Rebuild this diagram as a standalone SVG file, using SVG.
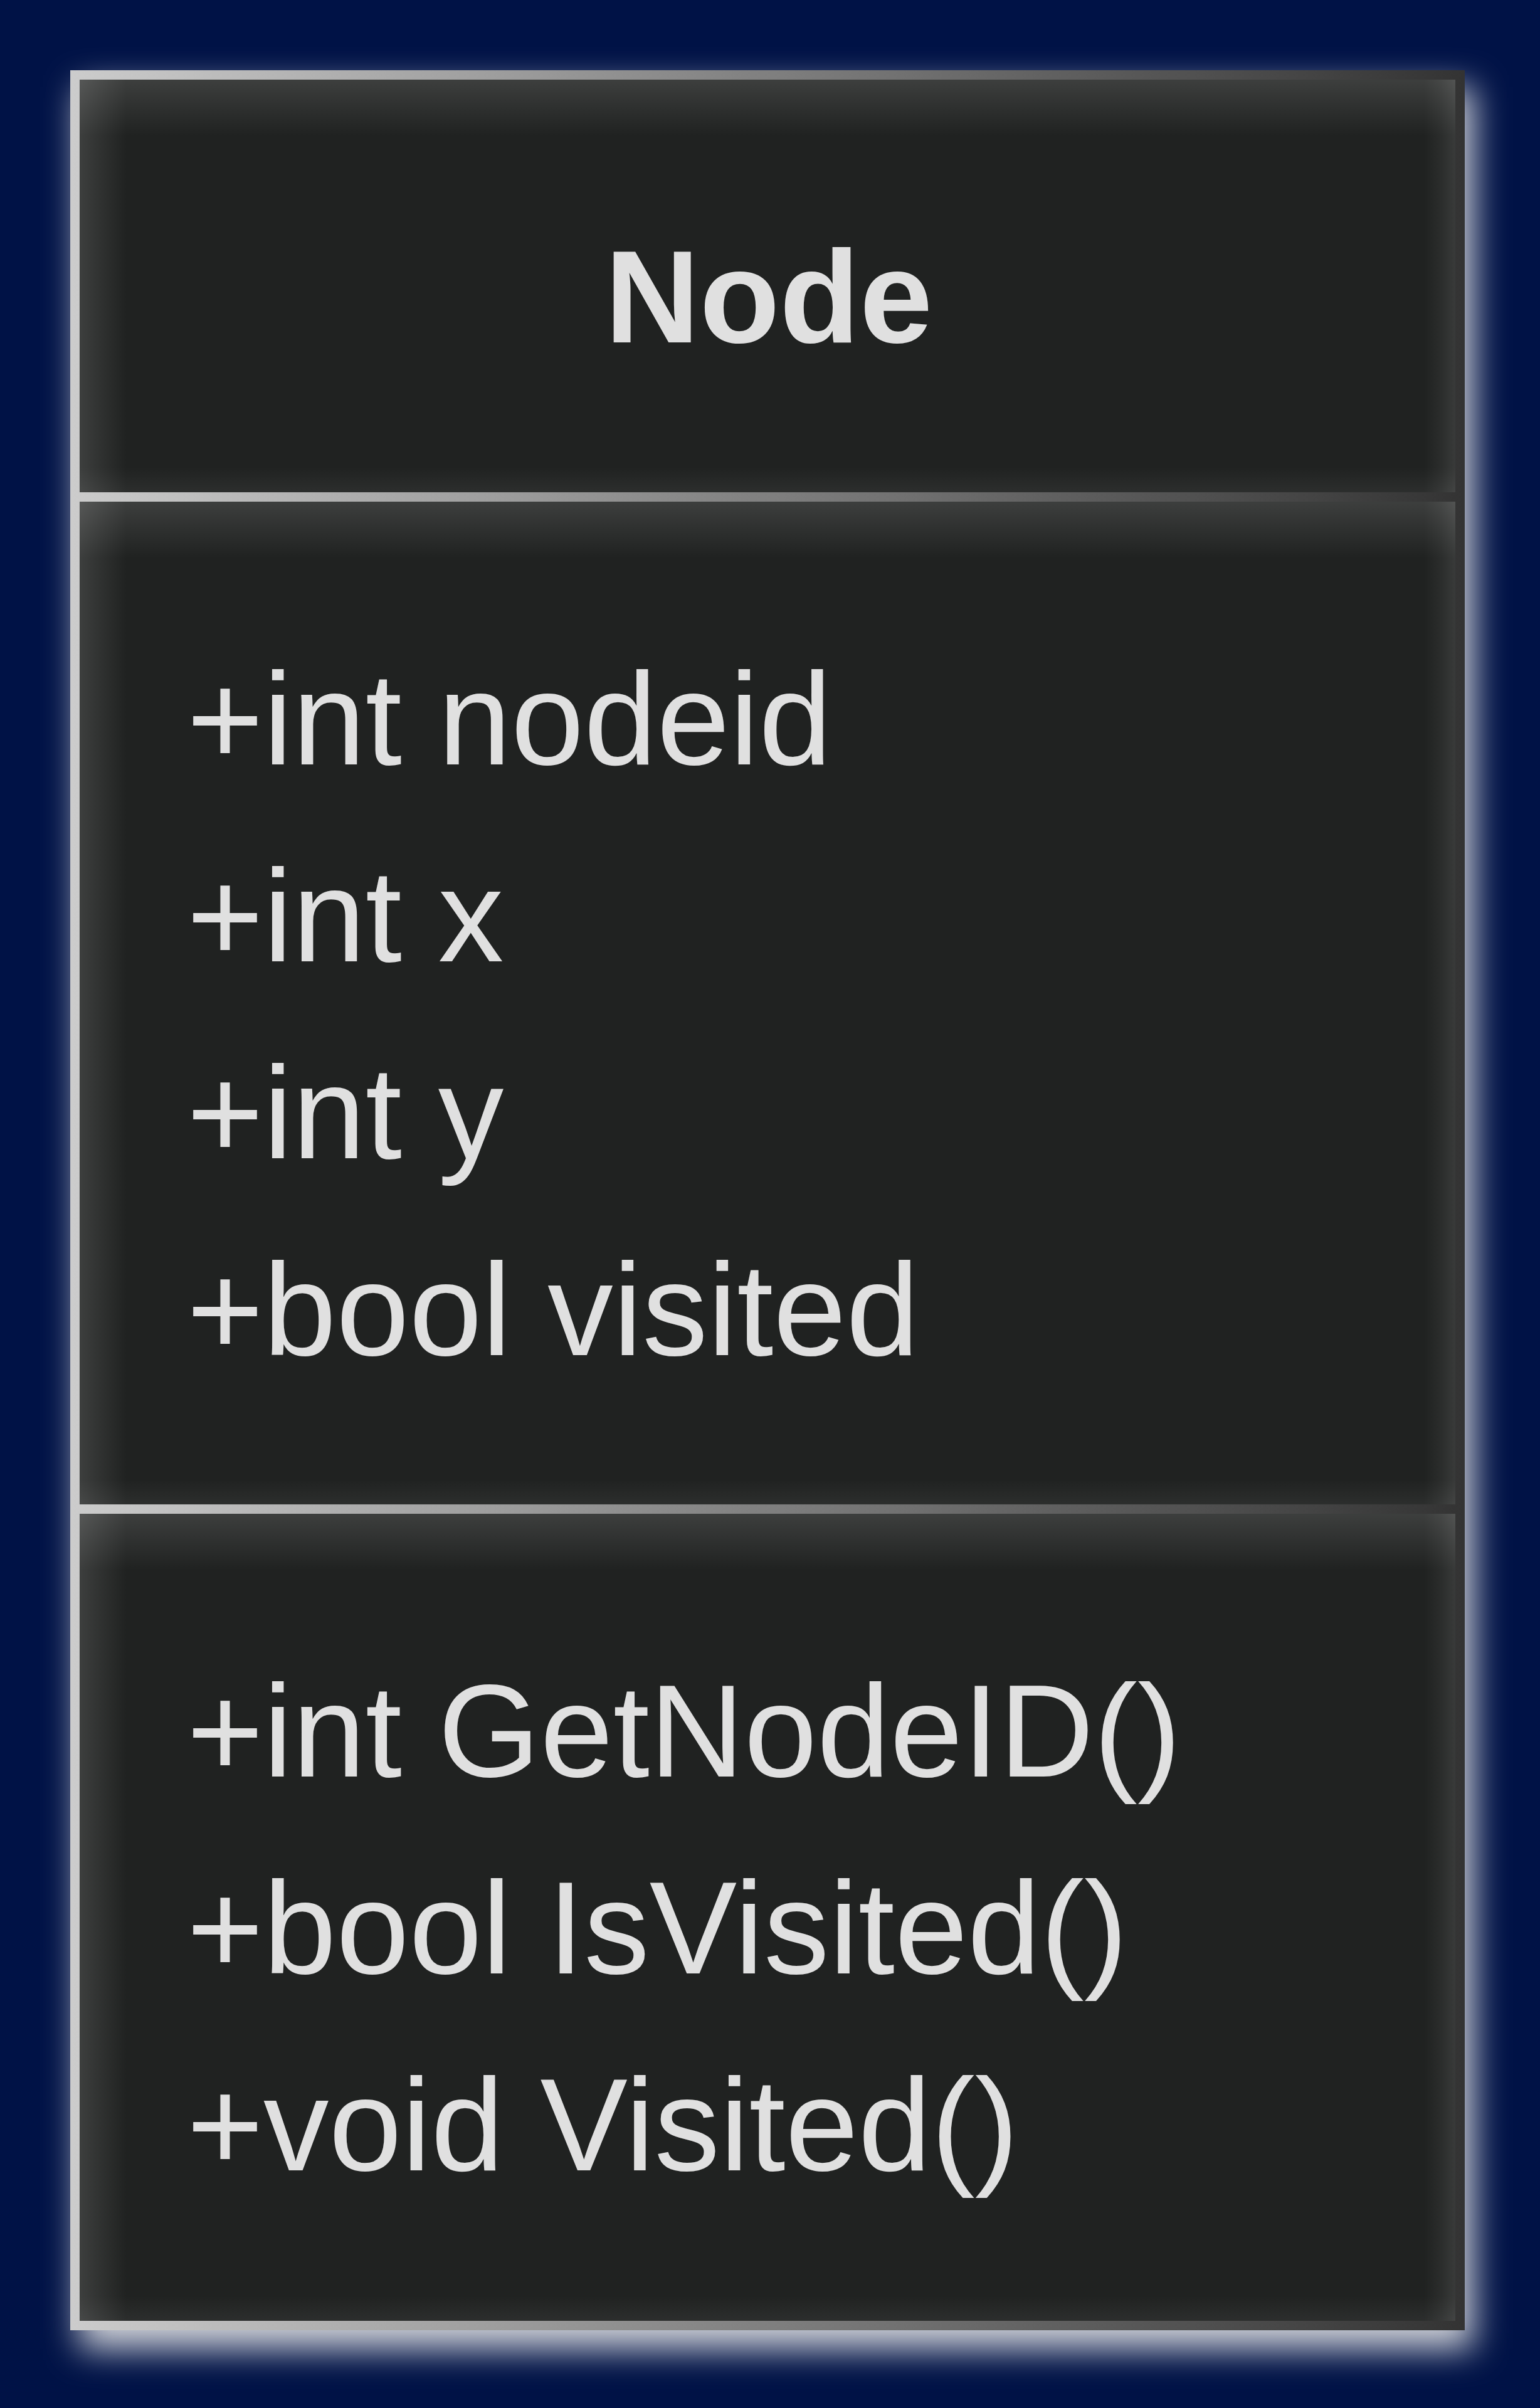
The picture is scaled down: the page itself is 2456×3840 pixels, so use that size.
<svg xmlns="http://www.w3.org/2000/svg" width="2456" height="3840" viewBox="0 0 2456 3840">
  <defs>
    <style>
      .lbl { font-family: "Liberation Sans", Arial, sans-serif; font-size: 209px; fill: #e0e0e0; }
      .title { font-weight: bold; text-anchor: middle; }
      .base { fill: #202221; }
      .gt { fill: url(#gTop); }
      .gl { fill: url(#gLeft); }
      .gr { fill: url(#gRight); }
      .gb { fill: url(#gBottom); }
    </style>
    <linearGradient id="frameGrad" gradientUnits="userSpaceOnUse" x1="112" y1="0" x2="2336" y2="0">
      <stop offset="0" stop-color="#cccccc"/>
      <stop offset="1" stop-color="#333333"/>
    </linearGradient>
    <linearGradient id="gTop" x1="0" y1="0" x2="0" y2="1">
      <stop offset="0" stop-color="#ffffff" stop-opacity="0.13"/>
      <stop offset="0.45" stop-color="#ffffff" stop-opacity="0.07"/>
      <stop offset="1" stop-color="#ffffff" stop-opacity="0"/>
    </linearGradient>
    <linearGradient id="gLeft" x1="0" y1="0" x2="1" y2="0">
      <stop offset="0" stop-color="#ffffff" stop-opacity="0.13"/>
      <stop offset="0.45" stop-color="#ffffff" stop-opacity="0.07"/>
      <stop offset="1" stop-color="#ffffff" stop-opacity="0"/>
    </linearGradient>
    <linearGradient id="gRight" x1="1" y1="0" x2="0" y2="0">
      <stop offset="0" stop-color="#ffffff" stop-opacity="0.11"/>
      <stop offset="0.45" stop-color="#ffffff" stop-opacity="0.05"/>
      <stop offset="1" stop-color="#ffffff" stop-opacity="0"/>
    </linearGradient>
    <linearGradient id="gBottom" x1="0" y1="1" x2="0" y2="0">
      <stop offset="0" stop-color="#ffffff" stop-opacity="0.055"/>
      <stop offset="1" stop-color="#ffffff" stop-opacity="0"/>
    </linearGradient>
    <filter id="outerGlow" x="-10%" y="-10%" width="120%" height="120%">
      <feGaussianBlur stdDeviation="27"/>
    </filter>
  </defs>

  <rect x="0" y="0" width="2456" height="3840" fill="#001246"/>

  <g id="connectors"/>

  <g id="node-Node">
    <rect x="126" y="138" width="2224" height="3608" fill="#cfd1d8" filter="url(#outerGlow)"/>

    <g id="Node-header">
      <rect class="base" x="127" y="127" width="2194" height="658"/>
      <rect class="gt" x="127" y="127" width="2194" height="90"/>
      <rect class="gl" x="127" y="127" width="75" height="658"/>
      <rect class="gr" x="2271" y="127" width="50" height="658"/>
      <rect class="gb" x="127" y="745" width="2194" height="40"/>
    </g>
    <g id="Node-attributes">
      <rect class="base" x="127" y="800" width="2194" height="1599"/>
      <rect class="gt" x="127" y="800" width="2194" height="90"/>
      <rect class="gl" x="127" y="800" width="75" height="1599"/>
      <rect class="gr" x="2271" y="800" width="50" height="1599"/>
      <rect class="gb" x="127" y="2359" width="2194" height="40"/>
    </g>
    <g id="Node-methods">
      <rect class="base" x="127" y="2414" width="2194" height="1287"/>
      <rect class="gt" x="127" y="2414" width="2194" height="90"/>
      <rect class="gl" x="127" y="2414" width="75" height="1287"/>
      <rect class="gr" x="2271" y="2414" width="50" height="1287"/>
      <rect class="gb" x="127" y="3661" width="2194" height="40"/>
    </g>

    <rect x="119.5" y="119.5" width="2209" height="3589" fill="none" stroke="url(#frameGrad)" stroke-width="15"/>
    <rect x="112" y="785" width="2216" height="15" fill="url(#frameGrad)"/>
    <rect x="112" y="2399" width="2216" height="15" fill="url(#frameGrad)"/>

    <text class="lbl title" x="1226" y="546">Node</text>

    <text class="lbl" x="298" y="1219">+int nodeid</text>
    <text class="lbl" x="298" y="1533">+int x</text>
    <text class="lbl" x="298" y="1847">+int y</text>
    <text class="lbl" x="298" y="2161">+bool visited</text>

    <text class="lbl" x="298" y="2833">+int GetNodeID()</text>
    <text class="lbl" x="298" y="3147">+bool IsVisited()</text>
    <text class="lbl" x="298" y="3461">+void Visited()</text>
  </g>
</svg>
